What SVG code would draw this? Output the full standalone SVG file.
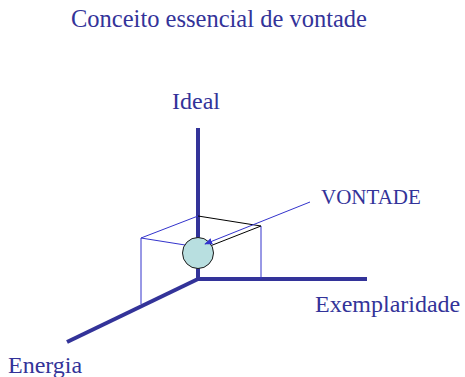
<svg xmlns="http://www.w3.org/2000/svg" width="465" height="377" viewBox="0 0 465 377">
<defs>
<style>
.t{font-family:"Liberation Serif","Times New Roman",serif;fill:#333399;}
.axis{stroke:#333399;stroke-width:4;fill:none;}
.thin{stroke:#3333cc;stroke-width:1;fill:none;}
.blk{stroke:#000;stroke-width:1;fill:none;}
</style>
<marker id="ah" viewBox="0 0 10 10" refX="9" refY="5" markerWidth="8" markerHeight="8" orient="auto" markerUnits="userSpaceOnUse">
<path d="M0,1 L10,5 L0,9 z" fill="#3333cc"/>
</marker>
</defs>
<rect width="465" height="377" fill="#fff"/>
<text class="t" x="71" y="27" font-size="24.5">Conceito essencial de vontade</text>
<g id="connectors">
<line class="axis" x1="198" y1="128" x2="198" y2="279"/>
<line class="axis" x1="198" y1="279" x2="367" y2="279"/>
<line class="axis" x1="198" y1="279" x2="67" y2="342"/>
<line class="thin" x1="198" y1="216" x2="141" y2="238"/>
<line class="thin" x1="141" y1="238" x2="141" y2="304"/>
<line class="thin" x1="141" y1="238" x2="204" y2="248"/>
<line class="blk" x1="198" y1="216" x2="261" y2="226"/>
<line class="thin" x1="261" y1="226" x2="261" y2="279"/>
<line class="blk" x1="261" y1="226" x2="210" y2="246"/>
</g>
<g id="vontade-node">
<circle cx="198" cy="253" r="15.5" fill="#b8dfe0" stroke="#1a1a1a" stroke-width="1"/>
</g>
<g id="leader">
<line class="thin" x1="310" y1="202" x2="205" y2="244" marker-end="url(#ah)"/>
</g>
<g id="label-ideal"><text class="t" x="172" y="109" font-size="24">Ideal</text></g>
<g id="label-vontade"><text class="t" x="321" y="204" font-size="21">VONTADE</text></g>
<g id="label-exemplaridade"><text class="t" x="315" y="312" font-size="24">Exemplaridade</text></g>
<g id="label-energia"><text class="t" x="8" y="373" font-size="24">Energia</text></g>
</svg>
